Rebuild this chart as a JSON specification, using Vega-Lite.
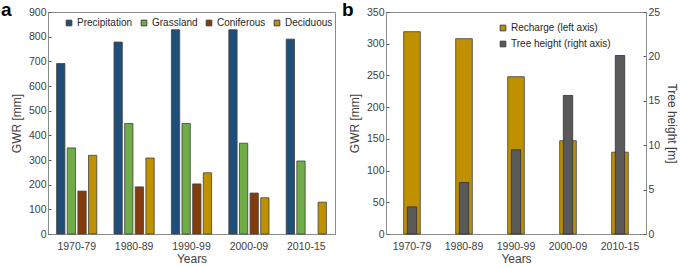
{
  "$schema": "https://vega.github.io/schema/vega-lite/v6.json",
  "padding": {"left": 0, "top": 0, "right": 0, "bottom": 0},
  "config": {
    "font": "Liberation Sans",
    "view": {"stroke": "#8c8c8c", "strokeWidth": 1},
    "axis": {"grid": false, "labelFont": "Liberation Sans", "titleFont": "Liberation Sans", "labelFontSize": 10.5, "titleFontSize": 12, "titleFontWeight": "normal", "labelColor": "#404040", "titleColor": "#404040", "domainColor": "#8c8c8c", "tickColor": "#595959"},
    "legend": {"labelFont": "Liberation Sans", "labelFontSize": 10, "labelColor": "#262626", "symbolType": "square", "symbolSize": 32, "symbolStrokeColor": "#404040", "symbolStrokeWidth": 1},
    "title": {"font": "Liberation Sans", "fontSize": 19, "fontWeight": "bold", "color": "#000000"}
  },
  "datasets": {
    "a": [
      {"decade": "1970-79", "series": "Precipitation", "gwr": 691},
      {"decade": "1970-79", "series": "Grassland", "gwr": 349},
      {"decade": "1970-79", "series": "Coniferous", "gwr": 174},
      {"decade": "1970-79", "series": "Deciduous", "gwr": 319},
      {"decade": "1980-89", "series": "Precipitation", "gwr": 778},
      {"decade": "1980-89", "series": "Grassland", "gwr": 448},
      {"decade": "1980-89", "series": "Coniferous", "gwr": 191},
      {"decade": "1980-89", "series": "Deciduous", "gwr": 308},
      {"decade": "1990-99", "series": "Precipitation", "gwr": 828},
      {"decade": "1990-99", "series": "Grassland", "gwr": 448},
      {"decade": "1990-99", "series": "Coniferous", "gwr": 203},
      {"decade": "1990-99", "series": "Deciduous", "gwr": 248},
      {"decade": "2000-09", "series": "Precipitation", "gwr": 828},
      {"decade": "2000-09", "series": "Grassland", "gwr": 368},
      {"decade": "2000-09", "series": "Coniferous", "gwr": 166},
      {"decade": "2000-09", "series": "Deciduous", "gwr": 147},
      {"decade": "2010-15", "series": "Precipitation", "gwr": 790},
      {"decade": "2010-15", "series": "Grassland", "gwr": 296},
      {"decade": "2010-15", "series": "Deciduous", "gwr": 129}
    ],
    "b": [
      {"decade": "1970-79", "series": "Recharge (left axis)", "value": 319},
      {"decade": "1980-89", "series": "Recharge (left axis)", "value": 308},
      {"decade": "1990-99", "series": "Recharge (left axis)", "value": 248},
      {"decade": "2000-09", "series": "Recharge (left axis)", "value": 147},
      {"decade": "2010-15", "series": "Recharge (left axis)", "value": 129},
      {"decade": "1970-79", "series": "Tree height (right axis)", "value": 3.05},
      {"decade": "1980-89", "series": "Tree height (right axis)", "value": 5.8},
      {"decade": "1990-99", "series": "Tree height (right axis)", "value": 9.5},
      {"decade": "2000-09", "series": "Tree height (right axis)", "value": 15.6},
      {"decade": "2010-15", "series": "Tree height (right axis)", "value": 20.1}
    ]
  },
  "spacing": 5,
  "resolve": {"scale": {"color": "independent"}, "legend": {"color": "independent"}},
  "hconcat": [
    {
      "width": 287,
      "height": 222,
      "title": {"text": "a", "anchor": "start", "frame": "group", "dx": -47, "offset": -13},
      "data": {"name": "a"},
      "mark": {"type": "bar", "stroke": "#404040", "strokeWidth": 0.8},
      "encoding": {
        "x": {"field": "decade", "type": "nominal", "sort": null, "scale": {"paddingInner": 0.3, "paddingOuter": 0.15},
              "axis": {"title": "Years", "labelAngle": 0, "ticks": false, "labelPadding": 7, "titlePadding": 2}},
        "xOffset": {"field": "series", "type": "nominal", "sort": ["Precipitation", "Grassland", "Coniferous", "Deciduous"], "scale": {"domain": ["Precipitation", "Grassland", "Coniferous", "Deciduous"], "paddingInner": 0.22}},
        "y": {"field": "gwr", "type": "quantitative", "scale": {"domain": [0, 900]},
              "axis": {"title": "GWR [mm]", "values": [0, 100, 200, 300, 400, 500, 600, 700, 800, 900], "tickSize": -3, "labelPadding": 5, "titlePadding": 5}},
        "color": {"field": "series", "type": "nominal",
                  "scale": {"domain": ["Precipitation", "Grassland", "Coniferous", "Deciduous"], "range": ["#1f4e79", "#70ad47", "#843c0c", "#bf9000"]},
                  "legend": {"title": null, "orient": "none", "direction": "horizontal", "legendX": 16, "legendY": 6, "columnPadding": 6, "labelOffset": 3}}
      }
    },
    {
      "width": 260,
      "height": 222,
      "title": {"text": "b", "anchor": "start", "frame": "group", "dx": -44, "offset": -13},
      "data": {"name": "b"},
      "encoding": {
        "x": {"field": "decade", "type": "nominal", "sort": null, "scale": {"paddingInner": 0, "paddingOuter": 0},
              "axis": {"title": "Years", "labelAngle": 0, "ticks": false, "labelPadding": 7, "titlePadding": 2}}
      },
      "layer": [
        {
          "transform": [{"filter": "datum.series === 'Recharge (left axis)'"}],
          "mark": {"type": "bar", "stroke": "#404040", "strokeWidth": 0.8, "width": {"band": 0.32}},
          "encoding": {
            "y": {"field": "value", "type": "quantitative", "scale": {"domain": [0, 350]},
                  "axis": {"title": "GWR [mm]", "values": [0, 50, 100, 150, 200, 250, 300, 350], "tickSize": -3, "labelPadding": 5, "titlePadding": 5}},
            "color": {"field": "series", "type": "nominal",
                      "scale": {"domain": ["Recharge (left axis)", "Tree height (right axis)"], "range": ["#bf9000", "#595959"]},
                      "legend": {"title": null, "orient": "none", "direction": "vertical", "legendX": 112, "legendY": 11, "rowPadding": 6, "labelOffset": 3}}
          }
        },
        {
          "transform": [{"filter": "datum.series === 'Tree height (right axis)'"}],
          "mark": {"type": "bar", "stroke": "#303030", "strokeWidth": 0.8, "width": {"band": 0.18}},
          "encoding": {
            "y": {"field": "value", "type": "quantitative", "scale": {"domain": [0, 25]},
                  "axis": {"title": "Tree height [m]", "orient": "right", "values": [0, 5, 10, 15, 20, 25], "tickSize": -3, "labelPadding": 5, "titlePadding": 5}},
            "color": {"field": "series", "type": "nominal",
                      "scale": {"domain": ["Recharge (left axis)", "Tree height (right axis)"], "range": ["#bf9000", "#595959"]},
                      "legend": {"title": null, "orient": "none", "direction": "vertical", "legendX": 112, "legendY": 11, "rowPadding": 6, "labelOffset": 3}}
          }
        }
      ],
      "resolve": {"scale": {"y": "independent"}}
    }
  ]
}
